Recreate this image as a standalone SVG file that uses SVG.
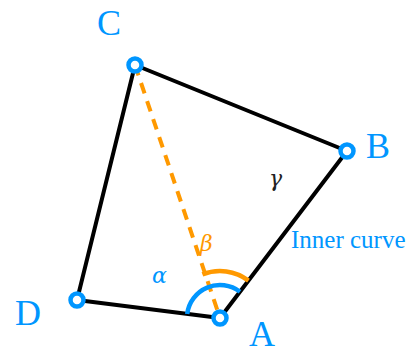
<svg xmlns="http://www.w3.org/2000/svg" width="416" height="354" viewBox="0 0 416 354">
<style>
.edge{stroke:#000;stroke-width:4;fill:none;stroke-linejoin:round}
.node{fill:#fff;stroke:#0096FF;stroke-width:4.5}
</style>
<g id="connectors" fill="none">
<path class="edge" d="M135,65 L347,151 L220,318 L77,300 Z"/>
<line x1="135" y1="65" x2="220" y2="318" stroke="#FF9900" stroke-width="4" stroke-dasharray="11,8"/>
<path d="M187.2,314 A33,33 0 0 1 240,291.8" stroke="#0096FF" stroke-width="4.5"/>
<path d="M202.4,274.4 A47,47 0 0 1 248.5,280.6" stroke="#FF9900" stroke-width="4.5"/>
</g>
<g id="C"><circle class="node" cx="135" cy="65" r="6.5"/><text x="97" y="35" font-family="'Liberation Serif', serif" font-size="36" fill="#0096FF">C</text></g>
<g id="B"><circle class="node" cx="347" cy="151" r="6.5"/><text x="366" y="158" font-family="'Liberation Serif', serif" font-size="36" fill="#0096FF">B</text></g>
<g id="A"><circle class="node" cx="220" cy="318" r="6.5"/><text x="249" y="346" font-family="'Liberation Serif', serif" font-size="36" fill="#0096FF">A</text></g>
<g id="D"><circle class="node" cx="77" cy="300" r="6.5"/><text x="15" y="325" font-family="'Liberation Serif', serif" font-size="36" fill="#0096FF">D</text></g>
<text x="291" y="248" font-family="'Liberation Serif', serif" font-size="25" fill="#0096FF">Inner curve</text>
<text x="152" y="283" font-family="'DejaVu Serif', serif" font-style="italic" font-size="22" fill="#0096FF">&#945;</text>
<text x="200" y="251" font-family="'DejaVu Serif', serif" font-style="italic" font-size="22" fill="#FF9900">&#946;</text>
<text x="269" y="186" font-family="'DejaVu Serif', serif" font-style="italic" font-size="22" fill="#222">&#947;</text>
</svg>
